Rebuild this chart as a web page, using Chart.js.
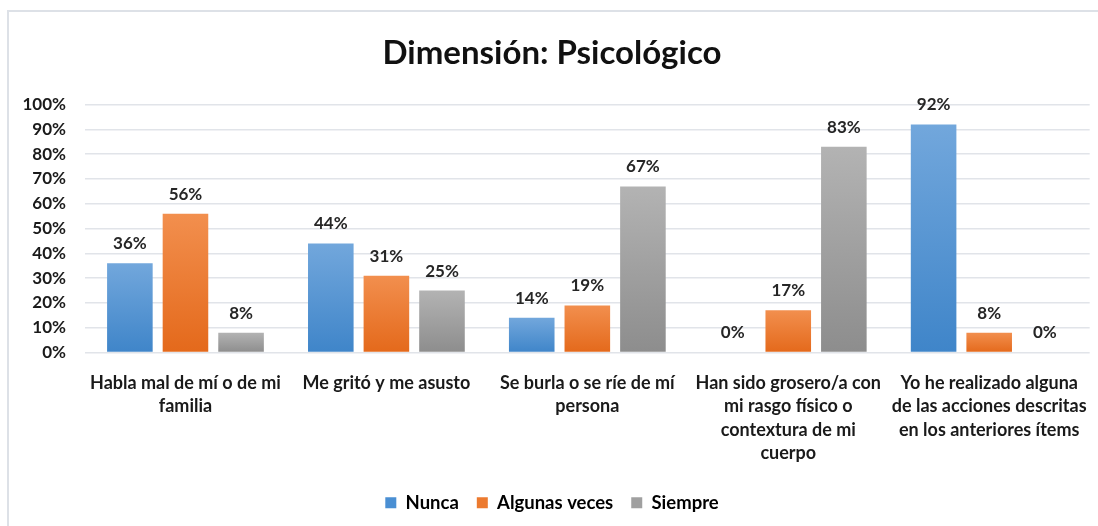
<!DOCTYPE html>
<html>
<head>
<meta charset="utf-8">
<script src="https://cdn.jsdelivr.net/npm/chart.js@4/dist/chart.umd.min.js"></script>
<style>
  html, body { margin: 0; padding: 0; background: #fff; }
  #wrap {
    position: absolute; left: 7px; top: 10px; width: 1091px; height: 516px;
    border-top: 2px solid #dde1e7; border-left: 2px solid #dde1e7;
  }
  #box { position: absolute; left: 0; top: 0; width: 1098px; height: 526px; }
</style>
</head>
<body>
<div id="wrap"></div>
<div id="box"><canvas id="myChart"></canvas></div>
<script>
var categories = [
  ["Habla mal de mí o de mi", "familia"],
  "Me gritó y me asusto",
  ["Se burla o se ríe de mí", "persona"],
  ["Han sido grosero/a con", "mi rasgo físico o", "contextura de mi", "cuerpo"],
  ["Yo he realizado alguna", "de las acciones descritas", "en los anteriores ítems"]
];
var seriesNames = ["Nunca", "Algunas veces", "Siempre"];
var nunca = [36, 44, 14, 0, 92];
var algunasVeces = [56, 31, 19, 17, 8];
var siempre = [8, 25, 67, 83, 0];

var FONT = "Lato, 'DejaVu Sans', sans-serif";
var topColors = ["#72a7dc", "#f28f4e", "#b3b3b3"];
var bottomColors = ["#3f85c9", "#e4691b", "#8d8d8d"];
var legendColors = ["#4a8fd3", "#ec7a2f", "#a0a0a0"];

function barGradient(idx) {
  return function (context) {
    var chart = context.chart;
    if (!chart.chartArea || context.raw === undefined) return legendColors[idx];
    var yScale = chart.scales.y;
    var top = yScale.getPixelForValue(context.raw);
    var bottom = yScale.getPixelForValue(0);
    if (bottom - top < 1) return legendColors[idx];
    var g = chart.ctx.createLinearGradient(0, top, 0, bottom);
    g.addColorStop(0, topColors[idx]);
    g.addColorStop(1, bottomColors[idx]);
    return g;
  };
}

var valueLabels = {
  id: 'valueLabels',
  afterDatasetsDraw: function (chart) {
    var ctx = chart.ctx;
    ctx.save();
    ctx.font = "bold 17px " + FONT;
    ctx.fillStyle = "#262626";
    ctx.textAlign = "center";
    ctx.textBaseline = "bottom";
    chart.data.datasets.forEach(function (ds, i) {
      var meta = chart.getDatasetMeta(i);
      meta.data.forEach(function (bar, j) {
        ctx.fillText(ds.data[j] + "%", bar.x, bar.y - 11);
      });
    });
    ctx.restore();
  }
};

var seriesValues = [nunca, algunasVeces, siempre];
var datasets = seriesValues.map(function (vals, i) {
  return {
    label: seriesNames[i],
    data: vals,
    backgroundColor: barGradient(i),
    borderWidth: 0,
    categoryPercentage: 0.83,
    barPercentage: 0.82
  };
});

new Chart("myChart", {
  type: "bar",
  data: { labels: categories, datasets: datasets },
  plugins: [valueLabels],
  options: {
    responsive: true,
    maintainAspectRatio: false,
    animation: false,
    layout: { padding: { left: 10, right: 4, top: 34, bottom: 4 } },
    scales: {
      x: {
        grid: { display: false },
        border: { display: false },
        afterFit: function (scale) { scale.height = 123; },
        ticks: {
          color: "#1a1a1a",
          font: { family: FONT, size: 18, weight: "bold", lineHeight: 1.3 },
          maxRotation: 0,
          autoSkip: false,
          padding: 11
        }
      },
      y: {
        min: 0,
        max: 100,
        afterFit: function (scale) { scale.width = 75; },
        grid: { color: "#e1e4e9", lineWidth: 1.5, drawTicks: false },
        border: { display: false },
        ticks: {
          stepSize: 10,
          padding: 19,
          color: "#1a1a1a",
          font: { family: FONT, size: 17, weight: "bold" },
          callback: function (v) { return v + "%"; }
        }
      }
    },
    plugins: {
      title: {
        display: true,
        text: "Dimensión: Psicológico",
        color: "#111",
        font: { family: FONT, size: 33, weight: "bold" },
        padding: { top: 0, bottom: 31 }
      },
      legend: {
        position: "bottom",
        onClick: false,
        labels: {
          color: "#1a1a1a",
          boxWidth: 11,
          boxHeight: 11,
          padding: 18,
          font: { family: FONT, size: 18.5, weight: "bold" },
          generateLabels: function (chart) {
            return seriesNames.map(function (n, i) {
              return { text: n, fillStyle: legendColors[i], strokeStyle: legendColors[i], lineWidth: 0, datasetIndex: i };
            });
          }
        }
      },
      tooltip: { enabled: false }
    }
  }
});
</script>
</body>
</html>
